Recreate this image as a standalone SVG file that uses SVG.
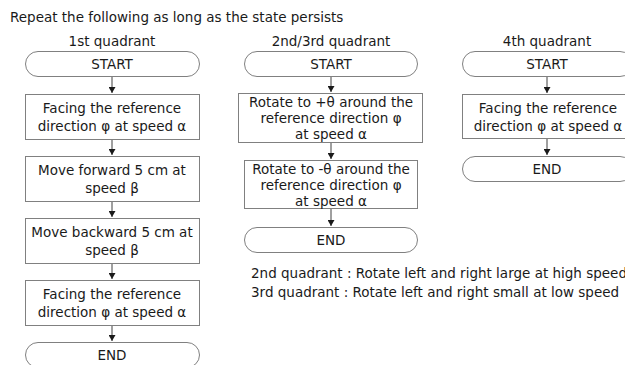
<svg xmlns="http://www.w3.org/2000/svg" width="625" height="365" viewBox="0 0 625 365">
  <defs>
    <style>
      text { font-family: "DejaVu Sans", "Liberation Sans", sans-serif; font-size: 13.5px; fill: #1a1a1a; }
      .c { text-anchor: middle; }
      .shape { fill: #ffffff; stroke: #808080; stroke-width: 1; }
      .flow { stroke: #404040; stroke-width: 1; fill: none; marker-end: url(#arrow); }
    </style>
    <!-- filled triangle, drawn along the line direction -->
    <marker id="arrow" viewBox="0 0 6 7" refX="6" refY="3.5" markerWidth="6" markerHeight="7" markerUnits="userSpaceOnUse" orient="auto">
      <path d="M0,0 L6,3.5 L0,7 Z" fill="#1a1a1a"/>
    </marker>
  </defs>
  <rect width="625" height="365" fill="#ffffff"/>

  <!-- headings -->
  <g id="headings">
    <text x="10" y="22">Repeat the following as long as the state persists</text>
    <text class="c" x="112" y="46">1st quadrant</text>
    <text class="c" x="331" y="46">2nd/3rd quadrant</text>
    <text class="c" x="547" y="46">4th quadrant</text>
  </g>

  <!-- connectors -->
  <g id="connectors">
    <line class="flow" x1="112" y1="77" x2="112" y2="93"/>
    <line class="flow" x1="112" y1="140" x2="112" y2="155"/>
    <line class="flow" x1="112" y1="202" x2="112" y2="217"/>
    <line class="flow" x1="112" y1="264" x2="112" y2="279"/>
    <line class="flow" x1="112" y1="326" x2="112" y2="341"/>
    <line class="flow" x1="331" y1="77" x2="331" y2="92"/>
    <line class="flow" x1="331" y1="143" x2="331" y2="159"/>
    <line class="flow" x1="331" y1="209" x2="331" y2="226"/>
    <line class="flow" x1="547" y1="77" x2="547" y2="93"/>
    <line class="flow" x1="547" y1="139" x2="547" y2="155"/>
  </g>

  <!-- 1st quadrant -->
  <g id="q1-start">
    <rect class="shape" x="25.5" y="51.5" width="174" height="25" rx="12.5"/>
    <text class="c" x="112" y="69">START</text>
  </g>
  <g id="q1-face1">
    <rect class="shape" x="25.5" y="94.5" width="174" height="45"/>
    <text class="c" x="112" y="113">Facing the reference</text>
    <text class="c" x="112" y="131">direction φ at speed α</text>
  </g>
  <g id="q1-forward">
    <rect class="shape" x="25.5" y="156.5" width="174" height="45"/>
    <text class="c" x="112" y="175">Move forward 5 cm at</text>
    <text class="c" x="112" y="193">speed β</text>
  </g>
  <g id="q1-backward">
    <rect class="shape" x="25.5" y="218.5" width="174" height="45"/>
    <text class="c" x="112" y="237">Move backward 5 cm at</text>
    <text class="c" x="112" y="255">speed β</text>
  </g>
  <g id="q1-face2">
    <rect class="shape" x="25.5" y="280.5" width="174" height="45"/>
    <text class="c" x="112" y="299">Facing the reference</text>
    <text class="c" x="112" y="317">direction φ at speed α</text>
  </g>
  <g id="q1-end">
    <rect class="shape" x="25.5" y="342.5" width="174" height="25" rx="12.5"/>
    <text class="c" x="112" y="360">END</text>
  </g>

  <!-- 2nd/3rd quadrant -->
  <g id="q23-start">
    <rect class="shape" x="244.5" y="51.5" width="173" height="25" rx="12.5"/>
    <text class="c" x="331" y="69">START</text>
  </g>
  <g id="q23-plus">
    <rect class="shape" x="238.5" y="93.5" width="184" height="49"/>
    <text class="c" x="331" y="107">Rotate to +θ around the</text>
    <text class="c" x="331" y="123">reference direction φ</text>
    <text class="c" x="331" y="139">at speed α</text>
  </g>
  <g id="q23-minus">
    <rect class="shape" x="244.5" y="160.5" width="173" height="48"/>
    <text class="c" x="331" y="174">Rotate to -θ around the</text>
    <text class="c" x="331" y="190">reference direction φ</text>
    <text class="c" x="331" y="206">at speed α</text>
  </g>
  <g id="q23-end">
    <rect class="shape" x="244.5" y="227.5" width="173" height="25" rx="12.5"/>
    <text class="c" x="331" y="245">END</text>
  </g>

  <!-- 4th quadrant -->
  <g id="q4-start">
    <rect class="shape" x="462.5" y="51.5" width="170" height="25" rx="12.5"/>
    <text class="c" x="547" y="69">START</text>
  </g>
  <g id="q4-face">
    <rect class="shape" x="462.5" y="94.5" width="170" height="44"/>
    <text class="c" x="548" y="113">Facing the reference</text>
    <text class="c" x="548" y="131">direction φ at speed α</text>
  </g>
  <g id="q4-end">
    <rect class="shape" x="462.5" y="156.5" width="170" height="25" rx="12.5"/>
    <text class="c" x="547" y="174">END</text>
  </g>

  <!-- notes -->
  <g id="notes">
    <text x="251" y="278">2nd quadrant : Rotate left and right large at high speed</text>
    <text x="251" y="297">3rd quadrant : Rotate left and right small at low speed</text>
  </g>
</svg>
